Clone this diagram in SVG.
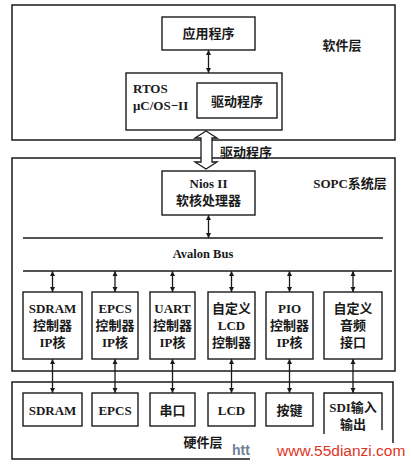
<svg xmlns="http://www.w3.org/2000/svg" width="411" height="468" viewBox="0 0 411 468">
<defs>
<marker id="ah" viewBox="0 0 10 10" refX="10" refY="5" markerWidth="5" markerHeight="6" markerUnits="userSpaceOnUse" orient="auto-start-reverse">
<path d="M0,0 L10,5 L0,10 z" fill="#1a1a1a"/>
</marker>
<style>
.box{fill:#fff;stroke:#1a1a1a;stroke-width:1.4}
.layer{fill:none;stroke:#1a1a1a;stroke-width:1.5}
.ln{stroke:#1a1a1a;stroke-width:1.4;fill:none}
.ar{stroke:#1a1a1a;stroke-width:1.3;fill:none;marker-start:url(#ah);marker-end:url(#ah)}
text{font-family:"Liberation Serif","Noto Sans CJK SC",serif;font-weight:bold;font-size:13px;fill:#1a1a1a}
.c{text-anchor:middle}
</style>
</defs>
<rect width="411" height="468" fill="#fff"/>

<g id="software-layer">
<rect class="layer" x="12" y="5" width="383" height="135"/>
<text x="342" y="50" class="c">软件层</text>
</g>
<g id="sopc-layer">
<rect class="layer" x="12" y="158" width="383" height="213"/>
<text x="350" y="188" class="c">SOPC系统层</text>
</g>
<g id="hardware-layer">
<path class="layer" d="M250,459 L12,459 L12,382 L393,382 L393,443"/>
<text x="203" y="447" class="c">硬件层</text>
</g>

<g id="app">
<rect class="box" x="162" y="17" width="93" height="33"/>
<text x="208.5" y="38" class="c">应用程序</text>
</g>
<g id="rtos">
<rect class="box" x="126" y="73" width="156" height="57"/>
<text x="133" y="93">RTOS</text>
<text x="133" y="110">μC/OS−II</text>
</g>
<g id="driver-inner">
<rect class="box" x="197" y="83" width="80" height="35"/>
<text x="237" y="106" class="c">驱动程序</text>
</g>
<g id="nios">
<rect class="box" x="162" y="171" width="93" height="44"/>
<text x="208.5" y="188" class="c">Nios II</text>
<text x="208.5" y="205" class="c">软核处理器</text>
</g>
<g id="avalon-bus">
<line class="ln" x1="23" y1="238" x2="383" y2="238"/>
<line class="ln" x1="23" y1="271" x2="392" y2="271"/>
<text x="203" y="258" class="c" style="font-size:12.5px">Avalon Bus</text>
</g>

<g id="m-sdram"><rect class="box" x="23" y="292" width="59" height="67"/>
<text x="52.5" y="313" class="c">SDRAM</text><text x="52.5" y="330" class="c">控制器</text><text x="52.5" y="347" class="c">IP核</text></g>
<g id="m-epcs"><rect class="box" x="92" y="292" width="46" height="67"/>
<text x="115" y="313" class="c">EPCS</text><text x="115" y="330" class="c">控制器</text><text x="115" y="347" class="c">IP核</text></g>
<g id="m-uart"><rect class="box" x="150" y="292" width="45" height="67"/>
<text x="172.5" y="313" class="c">UART</text><text x="172.5" y="330" class="c">控制器</text><text x="172.5" y="347" class="c">IP核</text></g>
<g id="m-lcd"><rect class="box" x="208" y="292" width="47" height="67"/>
<text x="231.5" y="313" class="c">自定义</text><text x="231.5" y="330" class="c">LCD</text><text x="231.5" y="347" class="c">控制器</text></g>
<g id="m-pio"><rect class="box" x="266" y="292" width="47" height="67"/>
<text x="289.5" y="313" class="c">PIO</text><text x="289.5" y="330" class="c">控制器</text><text x="289.5" y="347" class="c">IP核</text></g>
<g id="m-audio"><rect class="box" x="324" y="292" width="58" height="67"/>
<text x="353" y="313" class="c">自定义</text><text x="353" y="330" class="c">音频</text><text x="353" y="347" class="c">接口</text></g>

<g id="h-sdram"><rect class="box" x="23" y="393" width="59" height="33"/><text x="52.5" y="414.5" class="c">SDRAM</text></g>
<g id="h-epcs"><rect class="box" x="92" y="393" width="46" height="33"/><text x="115" y="414.5" class="c">EPCS</text></g>
<g id="h-uart"><rect class="box" x="150" y="393" width="45" height="33"/><text x="172.5" y="414.5" class="c">串口</text></g>
<g id="h-lcd"><rect class="box" x="208" y="393" width="47" height="33"/><text x="231.5" y="414.5" class="c">LCD</text></g>
<g id="h-key"><rect class="box" x="266" y="393" width="47" height="33"/><text x="289.5" y="414.5" class="c">按键</text></g>
<g id="h-sdi"><path class="ln" d="M324,434 L324,393 L382,393 L382,430"/><text x="353" y="412" class="c">SDI输入</text><text x="353" y="429" class="c">输出</text></g>

<g id="connectors">
<line class="ar" x1="208.5" y1="50" x2="208.5" y2="73"/>
<line class="ar" x1="208.5" y1="215" x2="208.5" y2="238"/>
<polygon points="206,131 217,138 212,138 212,162 217,162 206,169 195,162 201,162 201,138 195,138" fill="#fff" stroke="#1a1a1a" stroke-width="1.3"/>
<text x="220" y="157">驱动程序</text>
<line class="ar" x1="52.5" y1="271" x2="52.5" y2="292"/>
<line class="ar" x1="115" y1="271" x2="115" y2="292"/>
<line class="ar" x1="172.5" y1="271" x2="172.5" y2="292"/>
<line class="ar" x1="231.5" y1="271" x2="231.5" y2="292"/>
<line class="ar" x1="289.5" y1="271" x2="289.5" y2="292"/>
<line class="ar" x1="353" y1="271" x2="353" y2="292"/>
<line class="ar" x1="52.5" y1="359" x2="52.5" y2="393"/>
<line class="ar" x1="115" y1="359" x2="115" y2="393"/>
<line class="ar" x1="172.5" y1="359" x2="172.5" y2="393"/>
<line class="ar" x1="231.5" y1="359" x2="231.5" y2="393"/>
<line class="ar" x1="289.5" y1="359" x2="289.5" y2="393"/>
<line class="ar" x1="353" y1="359" x2="353" y2="393"/>
</g>

<g id="watermark">
<text x="232" y="455" style="font-family:'Liberation Sans',sans-serif;font-size:14px;fill:#6f7f98">htt</text>
<text x="277" y="456" style="font-family:'Liberation Sans',sans-serif;font-weight:normal;font-size:15.5px;fill:#e0341f">www.55dianzi.com</text>
</g>
</svg>
